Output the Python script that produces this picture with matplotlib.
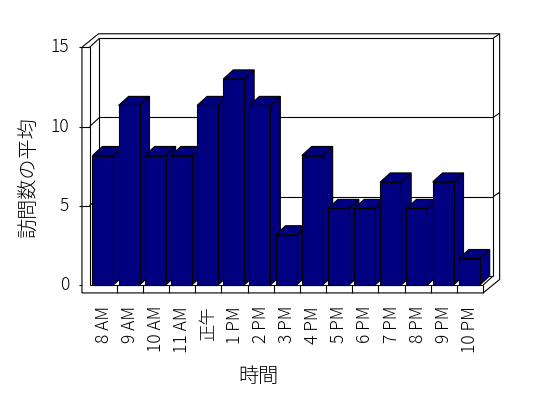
import numpy as np
import matplotlib
matplotlib.use("Agg")
from matplotlib import pyplot as plt
from matplotlib.patches import Polygon

plt.rcParams['font.family'] = ['Noto Sans CJK JP', 'DejaVu Sans']
plt.rcParams['font.weight'] = 'light'

# data (averages, look like sixths)
hours = ['8 AM', '9 AM', '10 AM', '11 AM', '正午', '1 PM', '2 PM', '3 PM',
         '4 PM', '5 PM', '6 PM', '7 PM', '8 PM', '9 PM', '10 PM']
visits = [8.17, 11.33, 8.17, 8.17, 11.33, 13.0, 11.33, 3.17,
          8.17, 4.83, 4.83, 6.5, 4.83, 6.5, 1.67]
yticks = [0, 5, 10, 15]
ylabel = '訪問数の平均'
xlabel = '時間'

NAVY = '#000080'
LW = 0.8

# pixel scale of the fake 3d front plane
SX, SY = 26.17, 15.85      # px per category, px per unit
X0, Y0 = 90.6, 285.0       # px of category 0 / value 0
W, H = 548, 398

fig = plt.figure(figsize=(W / 100, H / 100), dpi=100)
ax = fig.add_axes([0, 0, 1, 1])
ax.set_xlim(-X0 / SX, (W - X0) / SX)
ax.set_ylim((Y0 - H) / SY, Y0 / SY)
ax.axis('off')

n = len(hours)
top = yticks[-1]
DX, DY = 0.38, 0.57        # depth to back wall
OX, OY = 0.63, 0.85        # depth to outer edge of walls
xl_out, xl_in, xr = -0.33, -0.04, float(n)
fb = -0.5                  # floor slab bottom

def line(xs, ys, z=1):
    ax.plot(xs, ys, color='black', lw=LW, zorder=z, solid_capstyle='butt')

# walls (white) + outline
outline = [(xl_out, fb), (xr, fb), (xr + OX, fb + OY), (xr + OX, top + OY),
           (xl_out + OX, top + OY), (xl_out, top)]
ax.add_patch(Polygon(outline, closed=True, facecolor='white', edgecolor='black', lw=LW, zorder=1))

bx0, bx1 = xl_in + DX, xr + DX
line([bx0, bx1], [DY, DY])
line([bx0, bx0], [DY, top + DY])
line([bx1, bx1], [DY, top + DY])
line([bx0, bx1], [top + DY, top + DY])
line([bx1, xr + OX], [top + DY, top + OY])
line([xl_in, xl_in], [0, top])
line([xl_out, xl_in], [top, top])
line([xl_in, bx0], [top, top + DY])
line([xl_in, xr], [0, 0], z=2)
line([xr, xr], [fb, 0], z=2)
line([xr, bx1], [0, DY], z=2)

for v in yticks[1:-1]:
    line([bx0, bx1], [v + DY, v + DY])
    line([xl_out, xl_in], [v, v])
    line([xl_in, bx0], [v, v + DY])
    line([bx1, xr + OX], [v + DY, v + OY])

# ticks
for v in yticks:
    line([xl_out - 0.1, xl_out], [v, v])
    ax.text(xl_out - 0.5, v, str(v), ha='right', va='center', fontsize=12.5)
for i in range(1, n):
    line([i, i], [fb, 0], z=2)

# bars, drawn left to right so each hides the previous side face
x = np.arange(n)
x0 = x + 0.07
bw = 0.8
bars = ax.bar(x0, visits, width=bw, align='edge', color=NAVY,
              edgecolor='black', linewidth=LW)
for i, (b, v) in enumerate(zip(bars, visits)):
    z = 3 + i * 0.1
    b.set_zorder(z + 0.05)
    xa, xb = x0[i], x0[i] + bw
    side = [(xb, 0), (xb + DX, DY), (xb + DX, v + DY), (xb, v)]
    cap = [(xa, v), (xb, v), (xb + DX, v + DY), (xa + DX, v + DY)]
    for poly in (side, cap):
        ax.add_patch(Polygon(poly, closed=True, facecolor=NAVY,
                             edgecolor='black', lw=LW, zorder=z))

# category labels
for i, h in enumerate(hours):
    ax.text(i + 0.5, -1.32, h, rotation=90, ha='center', va='top', fontsize=12.5)

ax.text(6.4, -5.78, xlabel, ha='center', va='center', fontsize=14.5)
ax.text(-2.37, 6.75, ylabel, rotation=90, ha='center', va='center', fontsize=14.5)

plt.savefig('out.png', dpi=100)
